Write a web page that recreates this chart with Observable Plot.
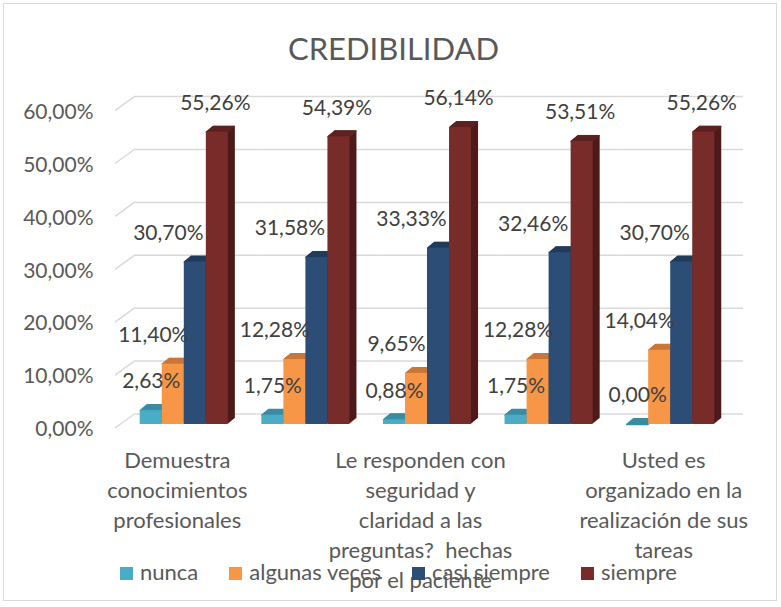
<!DOCTYPE html>
<html>
<head>
<meta charset="utf-8">
<script src="https://cdn.jsdelivr.net/npm/d3@7"></script>
<script src="https://cdn.jsdelivr.net/npm/@observablehq/plot@0.6"></script>
<style>
  body { margin: 0; background: #fff; font-family: Lato, "Open Sans", sans-serif; }
  #wrap { position: relative; width: 781px; height: 607px; overflow: hidden; background: #fff; }
  #border { position: absolute; left: 3px; top: 3px; width: 772px; height: 596px; border: 1.5px solid #d9d9d9; pointer-events: none; }
  #title { position: absolute; left: 0; top: 33px; width: 787px; text-align: center; font-size: 31px; line-height: 31px; color: #595959; }
  #chart { position: absolute; left: 0; top: 0; }
  #legend { position: absolute; left: 120px; top: 561px; display: flex; font-size: 22px; line-height: 22px; color: #595959; white-space: nowrap; }
  #legend .item { margin-right: 31px; }
  #legend .sw { display: inline-block; width: 13px; height: 13px; margin-right: 7px; }
</style>
</head>
<body>
<div id="wrap">
  <div id="chart"></div>
  <div id="title">CREDIBILIDAD</div>
  <div id="legend"></div>
  <div id="border"></div>
</div>
<script>
// ---- data ----
const categories = [
  "Demuestra conocimientos profesionales",
  "Pregunta 2",
  "Le responden con seguridad y claridad a las preguntas?  hechas por el paciente",
  "Pregunta 4",
  "Usted es organizado en la realización de sus tareas"
];
const categoryLabels = [
  "Demuestra\nconocimientos\nprofesionales",
  "",
  "Le responden con\nseguridad y\nclaridad a las\npreguntas?  hechas\npor el paciente",
  "",
  "Usted es\norganizado en la\nrealización de sus\ntareas"
];
const series = ["nunca", "algunas veces", "casi siempre", "siempre"];
const nunca = [2.63, 1.75, 0.88, 1.75, 0.00];
const algunasVeces = [11.40, 12.28, 9.65, 12.28, 14.04];
const casiSiempre = [30.70, 31.58, 33.33, 32.46, 30.70];
const siempre = [55.26, 54.39, 56.14, 53.51, 55.26];
const yTicks = [0, 0.1, 0.2, 0.3, 0.4, 0.5, 0.6];

// ---- styles ----
const frontColors = ["#4bacc6", "#f79646", "#2c4d75", "#772c2a"];
const topColors = ["#3a8ca3", "#c9773a", "#223c5c", "#5e2221"];
const sideColors = ["#2e6f82", "#a9612e", "#1a2e47", "#4b1a19"];
const labelDx = [0, -20, -27, -2];

const values = [nunca, algunasVeces, casiSiempre, siempre];
const rows = categories.flatMap((c, i) =>
  series.map((s, k) => ({category: c, series: s, k, value: values[k][i] / 100}))
);

const pct = v => d3.format(".2f")(v * 100).replace(".", ",") + "%";
const depth = d3.range(1, 8);
const ratio = 0.82;

const marks = [
  Plot.ruleY(yTicks, {stroke: "#d9d9d9", strokeWidth: 1.5, dx: 12, dy: -10.5}),
  Plot.axisY(yTicks, {tickSize: 0, tickPadding: 30, tickFormat: pct, fontSize: 21, fill: "#595959", dy: 5, label: null}),
  ...depth.map(t => Plot.barY(rows, {fx: "category", x: "series", y: "value", fill: d => sideColors[d.k], dx: t, dy: -t * ratio})),
  ...d3.range(0, 7.5, 0.5).map(t => Plot.tickY(rows, {fx: "category", x: "series", y: "value", stroke: d => topColors[d.k], strokeWidth: 1.5, dx: t, dy: -t * ratio})),
  Plot.barY(rows, {fx: "category", x: "series", y: "value", fill: d => frontColors[d.k]}),
  ...series.map((s, k) => Plot.text(rows.filter(d => d.k === k), {
    fx: "category", x: "series", y: "value", text: d => pct(d.value),
    dy: -29, dx: labelDx[k], fontSize: 21, fill: "#404040"
  })),
  Plot.text(categories, {
    fx: d => d, text: (d, i) => categoryLabels[i], frameAnchor: "bottom", lineAnchor: "top",
    lineHeight: 30 / 22, dy: 22, dx: -7, fontSize: 22, fill: "#595959"
  })
];

const plot = Plot.plot({
  width: 781,
  height: 607,
  marginLeft: 123,
  marginRight: 50,
  marginTop: 106.6,
  marginBottom: 183,
  fx: {domain: categories, padding: 0, round: false, axis: null, label: null},
  x: {domain: series, paddingInner: 0, paddingOuter: 0.76, round: false, axis: null},
  y: {domain: [0, 0.6], axis: null},
  color: {type: "identity"},
  style: {fontFamily: "Lato, 'Open Sans', sans-serif", fontSize: "21px", color: "#595959", overflow: "visible", background: "transparent"},
  marks
});

document.getElementById("chart").appendChild(plot);

// diagonal floor/back-wall joints at left, via the plot's y scale
const yScale = plot.scale("y");
const svg = d3.select(plot.tagName.toLowerCase() === "svg" ? plot : plot.querySelector("svg"));
svg.insert("g", ":first-child")
  .attr("stroke", "#d9d9d9").attr("stroke-width", 1.5)
  .selectAll("line").data(yTicks).join("line")
  .attr("x1", 115).attr("x2", 135)
  .attr("y1", d => yScale.apply(d) + 4)
  .attr("y2", d => yScale.apply(d) - 10.5);

// legend
const legend = d3.select("#legend");
series.forEach((s, k) => {
  const item = legend.append("span").attr("class", "item");
  item.append("span").attr("class", "sw").style("background", frontColors[k]);
  item.append("span").text(s);
});
</script>
</body>
</html>
